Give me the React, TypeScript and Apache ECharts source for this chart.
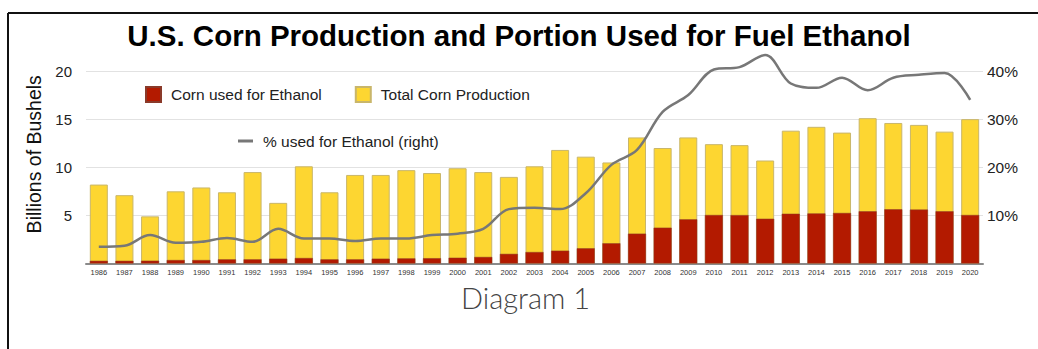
import React, { useEffect, useRef } from "react";
import * as echarts from "echarts";

const years = [
  "1986","1987","1988","1989","1990","1991","1992","1993","1994","1995","1996","1997",
  "1998","1999","2000","2001","2002","2003","2004","2005","2006","2007","2008","2009",
  "2010","2011","2012","2013","2014","2015","2016","2017","2018","2019","2020",
];

const totalProduction = [
  8.2, 7.1, 4.9, 7.5, 7.9, 7.4, 9.5, 6.3, 10.1, 7.4, 9.2, 9.2,
  9.7, 9.4, 9.9, 9.5, 9.0, 10.1, 11.8, 11.1, 10.5, 13.1, 12.0, 13.1,
  12.4, 12.3, 10.7, 13.8, 14.2, 13.6, 15.1, 14.6, 14.4, 13.7, 15.0,
];

const ethanolUse = [
  0.28, 0.28, 0.29, 0.36, 0.36, 0.43, 0.43, 0.5, 0.57, 0.43, 0.43, 0.5,
  0.53, 0.55, 0.6, 0.68, 1.0, 1.19, 1.33, 1.58, 2.1, 3.1, 3.72, 4.59,
  5.04, 5.03, 4.65, 5.17, 5.2, 5.25, 5.42, 5.63, 5.6, 5.42, 5.04,
];

const percentEthanol = [
  3.5, 3.7, 5.9, 4.3, 4.5, 5.3, 4.5, 7.2, 5.2, 5.2, 4.7, 5.2,
  5.2, 5.9, 6.2, 7.2, 11.3, 11.6, 11.3, 14.6, 20.5, 23.6, 31.5, 35.0,
  40.3, 40.8, 43.3, 37.4, 36.5, 38.6, 36.0, 38.6, 39.2, 39.6, 34.0,
];

const leftTicks = { min: 0, max: 20, interval: 5 };
const rightTicks = { min: 0, max: 40, interval: 10 };

export default function App() {
  const ref = useRef<HTMLDivElement>(null);

  useEffect(() => {
    document.body.style.margin = "0";
    if (!ref.current) return;
    const chart = echarts.init(ref.current, undefined, { renderer: "svg" });
    const font = "'Liberation Sans', Arial, Helvetica, sans-serif";
    chart.setOption({
      animation: false,
      backgroundColor: "#ffffff",
      textStyle: { fontFamily: font },
      title: {
        text: "U.S. Corn Production and Portion Used for Fuel Ethanol",
        left: "center",
        top: 20,
        padding: 0,
        textStyle: { fontSize: 29.5, fontWeight: "bold", color: "#000", fontFamily: font },
      },
      graphic: [
        { type: "line", shape: { x1: 8, y1: 13, x2: 1038, y2: 13 }, style: { stroke: "#111", lineWidth: 2 } },
        { type: "line", shape: { x1: 8, y1: 13, x2: 8, y2: 349 }, style: { stroke: "#111", lineWidth: 2 } },
        {
          type: "text",
          left: 461,
          top: 283,
          style: {
            text: "Diagram 1",
            fontSize: 29,
            fontWeight: 300,
            fontFamily: "Lato, 'DejaVu Sans', sans-serif",
            fill: "#444",
          },
        },
      ],
      legend: [
        {
          data: ["Corn used for Ethanol", "Total Corn Production"],
          left: 145,
          top: 86,
          padding: 0,
          icon: "rect",
          itemWidth: 15,
          itemHeight: 15,
          itemGap: 33,
          textStyle: { fontSize: 15.5, color: "#222", padding: [0, 0, 0, 5] },
        },
        {
          data: ["% used for Ethanol (right)"],
          left: 238,
          top: 133,
          padding: 0,
          icon: "rect",
          itemWidth: 15,
          itemHeight: 3,
          textStyle: { fontSize: 15.5, color: "#222", padding: [0, 0, 0, 5] },
        },
      ],
      grid: { left: 86, right: 55, top: 71, bottom: 85.5 },
      xAxis: {
        type: "category",
        data: years,
        axisLine: { lineStyle: { color: "#8a8a8a", width: 2 } },
        axisTick: { show: false },
        axisLabel: { fontSize: 7.5, color: "#333", margin: 5, interval: 0 },
      },
      yAxis: [
        {
          type: "value",
          ...leftTicks,
          name: "Billions of Bushels",
          nameLocation: "middle",
          nameGap: 25,
          nameTextStyle: { fontSize: 19.5, color: "#111", padding: [0, 0, 0, 26] },
          axisLabel: { fontSize: 15, color: "#222", margin: 14, showMinLabel: false },
          axisLine: { show: false },
          axisTick: { show: false },
          splitLine: { lineStyle: { color: "#e2e2e2", width: 1 } },
        },
        {
          type: "value",
          ...rightTicks,
          axisLabel: { fontSize: 15.5, color: "#222", margin: 4, formatter: "{value}%", showMinLabel: false },
          axisLine: { show: false },
          axisTick: { show: false },
          splitLine: { show: false },
        },
      ],
      series: [
        {
          name: "Total Corn Production",
          type: "bar",
          data: totalProduction,
          barWidth: 18,
          itemStyle: { color: "#fdd631", borderColor: "#c9b66a", borderWidth: 1 },
        },
        {
          name: "Corn used for Ethanol",
          type: "bar",
          data: ethanolUse,
          barWidth: 18,
          barGap: "-100%",
          itemStyle: { color: "#b31a00", borderColor: "#8a3a2a", borderWidth: 0.5 },
        },
        {
          name: "% used for Ethanol (right)",
          type: "line",
          yAxisIndex: 1,
          data: percentEthanol,
          smooth: 0.35,
          symbol: "none",
          clip: false,
          itemStyle: { color: "#777777" },
          lineStyle: { color: "#777777", width: 2.5 },
        },
      ],
    });
    return () => chart.dispose();
  }, []);

  return <div ref={ref} style={{ width: 1038, height: 349 }} />;
}
